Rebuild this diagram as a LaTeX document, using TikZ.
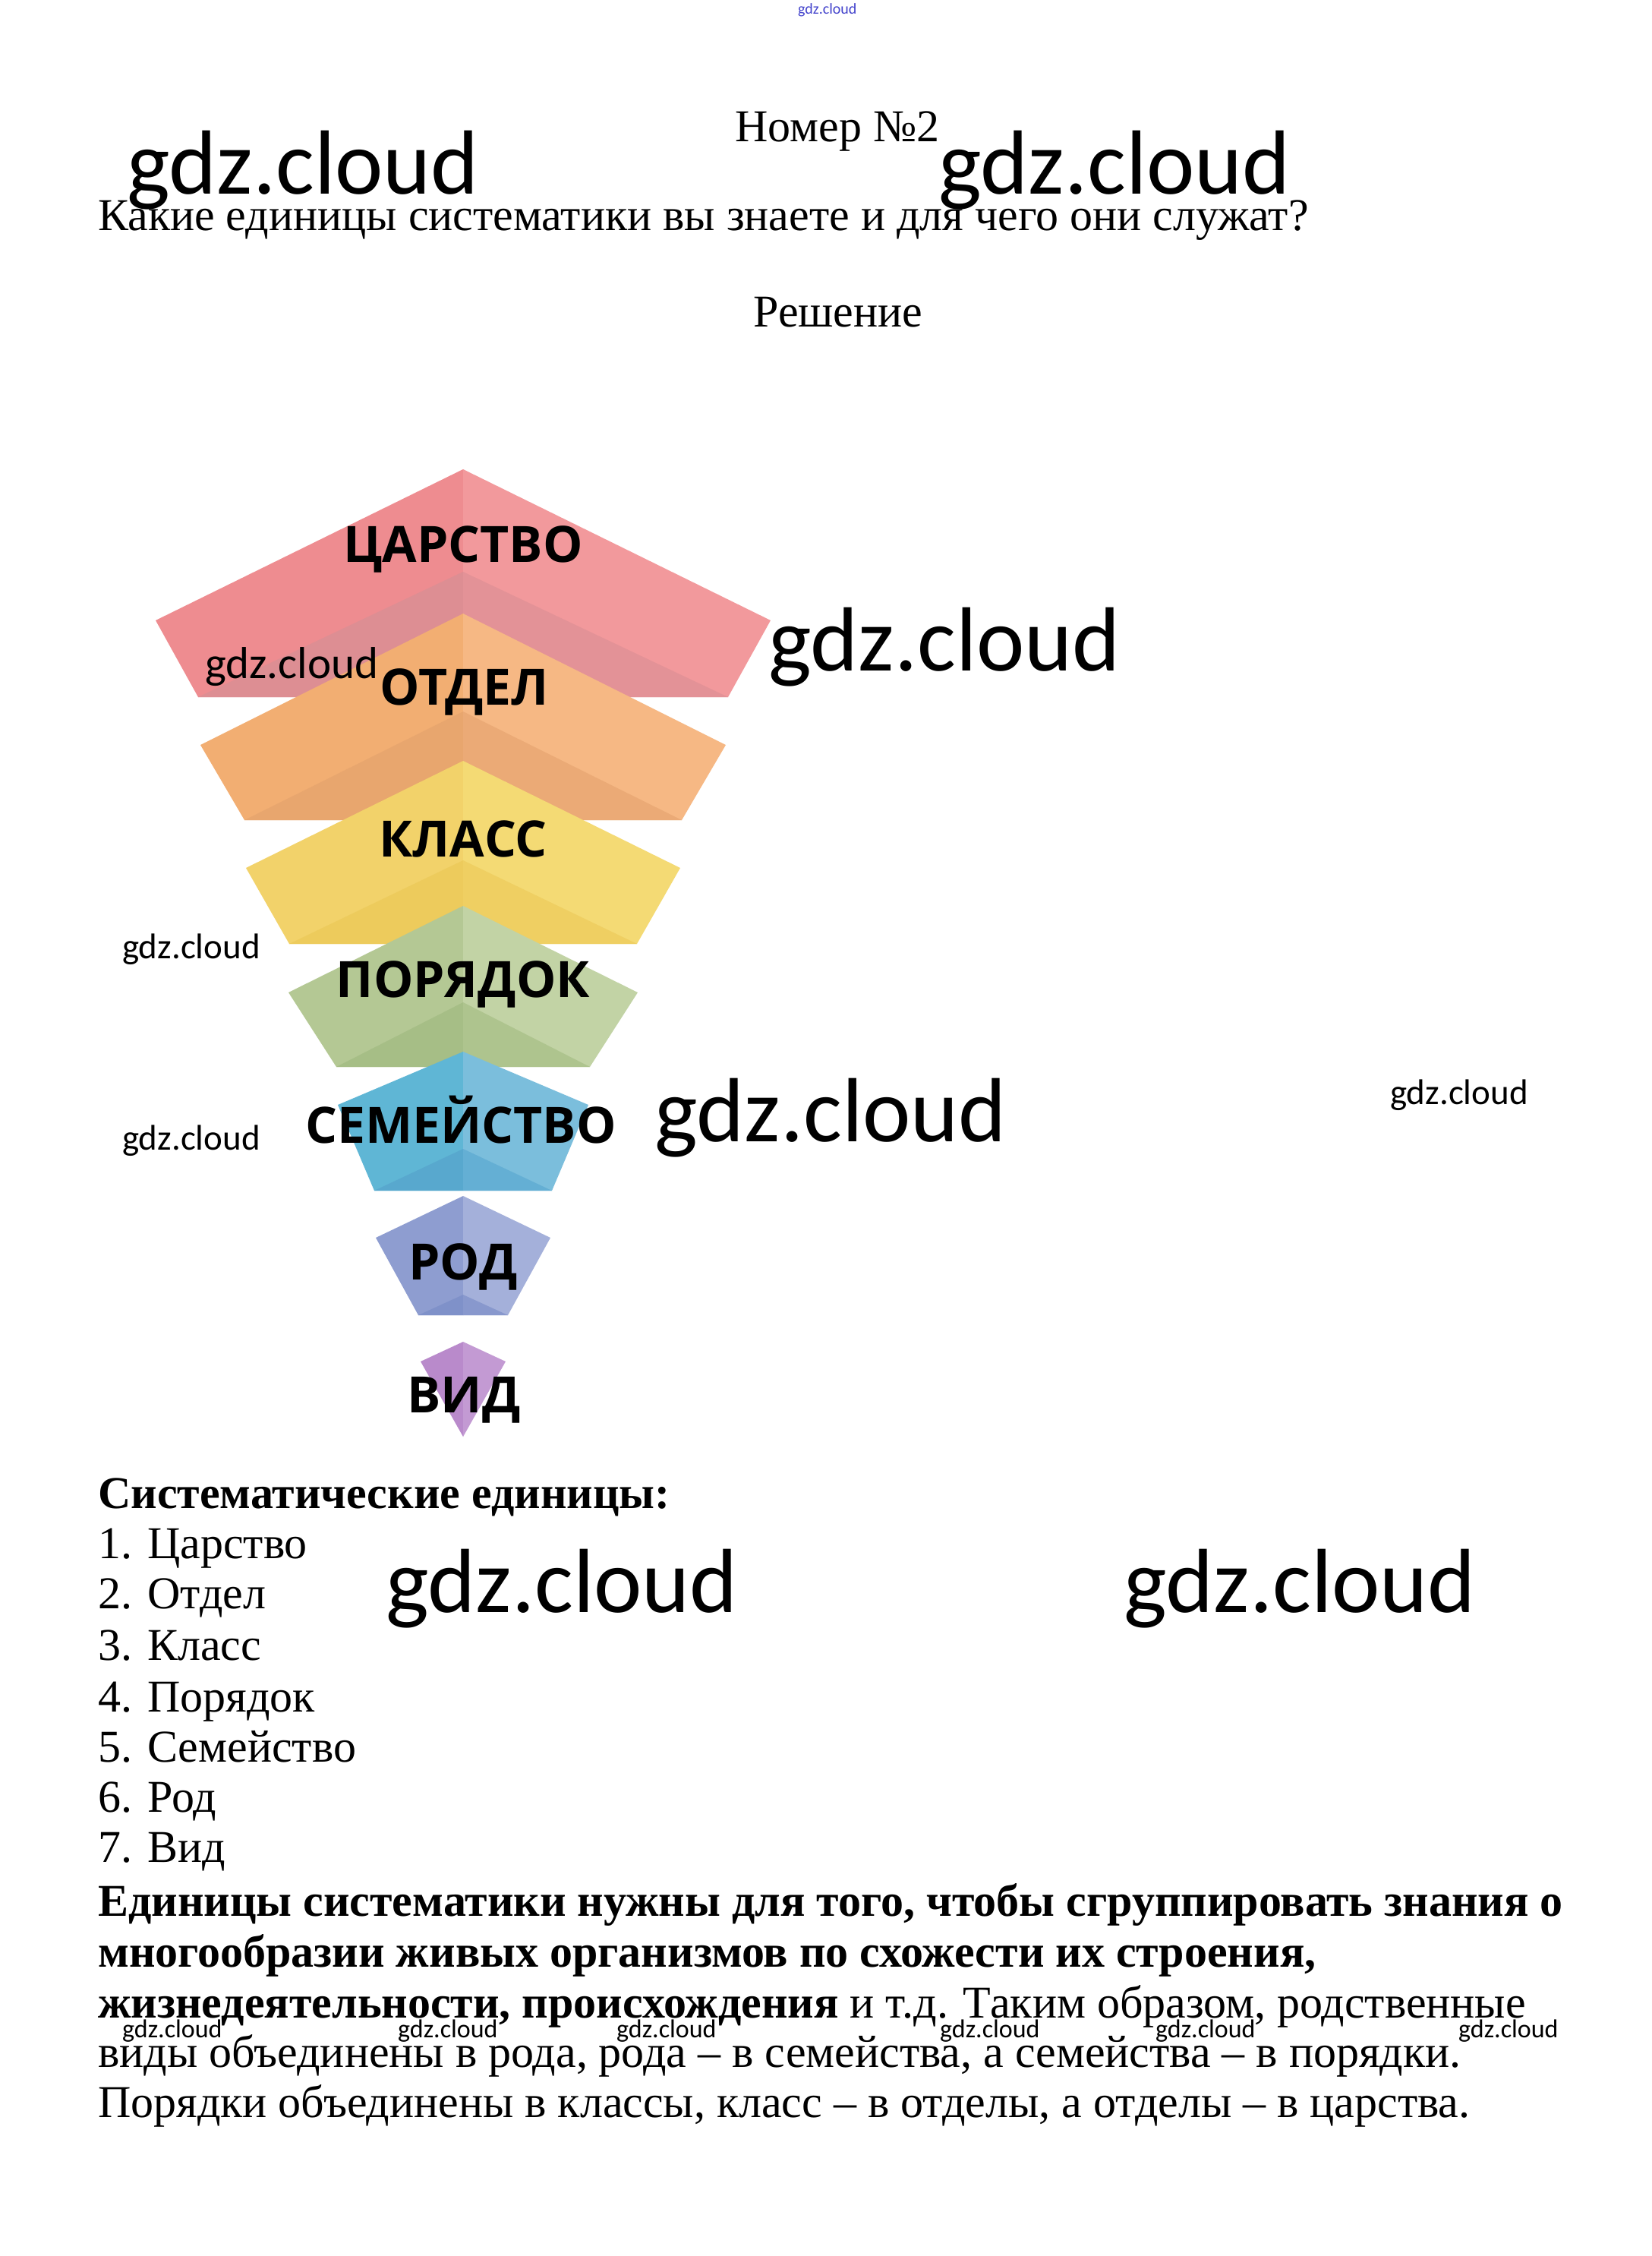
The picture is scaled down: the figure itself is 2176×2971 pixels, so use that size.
\documentclass[tikz,border=0pt]{standalone}
\usepackage{fontspec}
\setmainfont{Liberation Serif}
\newfontfamily\wmfont{Carlito}
\newfontfamily\labfont{Open Sans}
\definecolor{pinkL}{HTML}{EE8C90}
\definecolor{pinkR}{HTML}{F2999C}
\definecolor{pinkDL}{HTML}{DD8E93}
\definecolor{pinkDR}{HTML}{E39297}
\definecolor{orangeL}{HTML}{F2AE72}
\definecolor{orangeR}{HTML}{F6B884}
\definecolor{orangeDL}{HTML}{E8A66E}
\definecolor{orangeDR}{HTML}{EBAA76}
\definecolor{yellowL}{HTML}{F2D26A}
\definecolor{yellowR}{HTML}{F4DA74}
\definecolor{yellowDL}{HTML}{EDCB5C}
\definecolor{yellowDR}{HTML}{EFCF62}
\definecolor{greenL}{HTML}{B4C894}
\definecolor{greenR}{HTML}{C2D3A5}
\definecolor{greenDL}{HTML}{A6BE86}
\definecolor{greenDR}{HTML}{AEC48E}
\definecolor{blueL}{HTML}{5FB6D5}
\definecolor{blueR}{HTML}{7BBEDC}
\definecolor{blueDL}{HTML}{58A8CE}
\definecolor{blueDR}{HTML}{64AFD4}
\definecolor{rodL}{HTML}{8E9DD0}
\definecolor{rodR}{HTML}{A4B0DA}
\definecolor{rodDL}{HTML}{7F91C9}
\definecolor{rodDR}{HTML}{8898CD}
\definecolor{vidL}{HTML}{B98ACB}
\definecolor{vidR}{HTML}{C39AD3}
\definecolor{wmblue}{HTML}{4444CC}
\newcommand\tier[7]{%
  \fill[#7L] (610,#1) -- (610-#3,#2) -- (610-#5,#4) -- (610,#4) -- cycle;
  \fill[#7R] (610,#1) -- (610+#3,#2) -- (610+#5,#4) -- (610,#4) -- cycle;
  \fill[#7DL] (610,#6) -- (610-#5,#4) -- (610,#4) -- cycle;
  \fill[#7DR] (610,#6) -- (610+#5,#4) -- (610,#4) -- cycle;
}
\tikzset{
  body/.style={inner sep=0pt, anchor=base west, font=\fontsize{60}{66}\selectfont},
  bodyb/.style={inner sep=0pt, anchor=base west, font=\bfseries\fontsize{60}{66}\selectfont},
  bodyc/.style={inner sep=0pt, anchor=base, font=\fontsize{60}{66}\selectfont},
  lab/.style={inner sep=0pt, anchor=base, font=\labfont\bfseries\fontsize{66}{70}\selectfont},
  wmbig/.style={inner sep=0pt, anchor=base west, font=\wmfont\fontsize{120}{120}\selectfont},
  wmmid/.style={inner sep=0pt, anchor=base west, font=\wmfont\fontsize{59}{60}\selectfont},
  wmsm/.style={inner sep=0pt, anchor=base west, font=\wmfont\fontsize{47}{48}\selectfont},
  wmxs/.style={inner sep=0pt, anchor=base west, font=\wmfont\fontsize{34}{34}\selectfont},
}
\begin{document}
\begin{tikzpicture}[x=1pt,y=-1pt]
\useasboundingbox (0,0) rectangle (2176,2971);
\fill[white] (0,0) rectangle (2176,2971);
% pyramid
\tier{618}{817}{405}{918}{349}{753}{pink}
\tier{808}{981}{346}{1080}{288}{937}{orange}
\tier{1002}{1143}{286}{1243}{229}{1133}{yellow}
\tier{1193}{1307}{230}{1405}{167}{1320}{green}
\tier{1385}{1455}{165}{1568}{117}{1513}{blue}
\tier{1575}{1630}{115}{1732}{59}{1705}{rod}
\fill[vidL] (610,1767) -- (554,1793) -- (610,1892) -- cycle;
\fill[vidR] (610,1767) -- (666,1793) -- (610,1892) -- cycle;
% labels
\node[lab] (l1) at (610,740) {ЦАРСТВО};
\node[lab] (l2) at (612,928) {ОТДЕЛ};
\node[lab] (l3) at (610,1128) {КЛАСС};
\node[lab] (l4) at (610,1313) {ПОРЯДОК};
\node[lab] (l5) at (607,1505) {СЕМЕЙСТВО};
\node[lab] (l6) at (610,1685) {РОД};
\node[lab] (l7) at (611,1860) {ВИД};
% header text
\node[inner sep=0pt, anchor=base west, text=wmblue, font=\wmfont\fontsize{20}{20}\selectfont] (wtop) at (1051,18) {gdz.cloud};
\node[bodyc] (num) at (1103,186) {Номер №2};
\node[body] (q) at (129,303) {Какие единицы систематики вы знаете и для чего они служат?};
\node[bodyc] (sol) at (1104,430) {Решение};
% list
\node[bodyb] (h) at (129,1986) {Систематические единицы:};
\node[body] (i1) at (129,2052) {1. Царство};
\node[body] (i2) at (129,2118) {2. Отдел};
\node[body] (i3) at (129,2186) {3. Класс};
\node[body] (i4) at (129,2254) {4. Порядок};
\node[body] (i5) at (129,2320) {5. Семейство};
\node[body] (i6) at (129,2386) {6. Род};
\node[body] (i7) at (129,2452) {7. Вид};
% paragraph
\node[bodyb] (p1) at (129,2523) {Единицы систематики нужны для того, чтобы сгруппировать знания о};
\node[bodyb] (p2) at (129,2590) {многообразии живых организмов по схожести их строения,};
\node[body] (p3) at (129,2657) {\textbf{жизнедеятельности, происхождения} и т.д. Таким образом, родственные};
\node[body] (p4) at (129,2722) {виды объединены в рода, рода – в семейства, а семейства – в порядки.};
\node[body] (p5) at (129,2788) {Порядки объединены в классы, класс – в отделы, а отделы – в царства.};
% watermarks
\node[wmbig] (w1) at (167,255) {gdz.cloud};
\node[wmbig] (w2) at (1236,255) {gdz.cloud};
\node[wmbig] (w3) at (1012,883) {gdz.cloud};
\node[wmbig] (w4) at (862,1503) {gdz.cloud};
\node[wmbig] (w5) at (508,2123) {gdz.cloud};
\node[wmbig] (w6) at (1480,2123) {gdz.cloud};
\node[wmmid] (w7) at (270,893) {gdz.cloud};
\node[wmsm] (w8) at (161,1262) {gdz.cloud};
\node[wmsm] (w9) at (161,1514) {gdz.cloud};
\node[wmsm] (w10) at (1831,1454) {gdz.cloud};
\node[wmxs] (s1) at (161,2683) {gdz.cloud};
\node[wmxs] (s2) at (524,2683) {gdz.cloud};
\node[wmxs] (s3) at (812,2683) {gdz.cloud};
\node[wmxs] (s4) at (1238,2683) {gdz.cloud};
\node[wmxs] (s5) at (1522,2683) {gdz.cloud};
\node[wmxs] (s6) at (1921,2683) {gdz.cloud};
\end{tikzpicture}
\end{document}
